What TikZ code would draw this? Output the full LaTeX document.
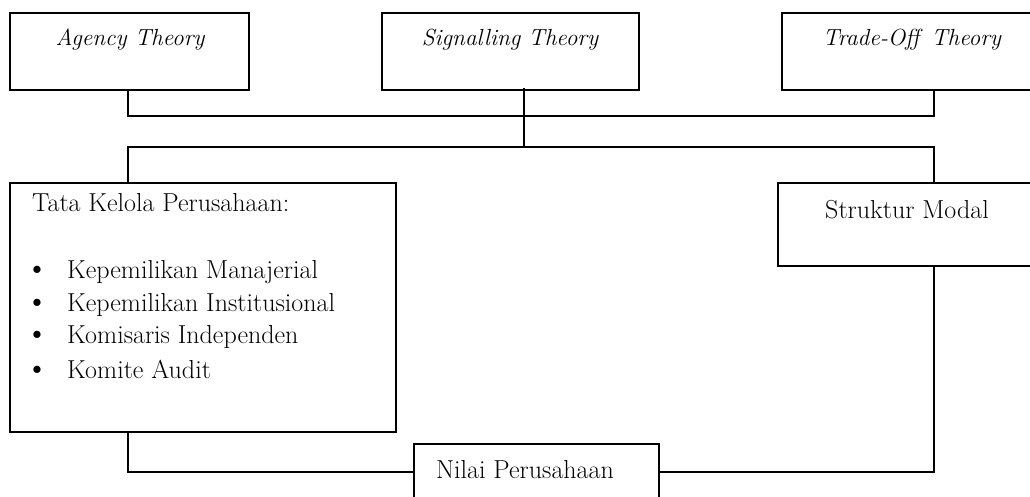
\documentclass[tikz,border=0pt]{standalone}
\begin{document}
\begin{tikzpicture}[x=1pt,y=-1pt,
  box/.style={draw, line width=1.3pt, inner sep=0pt, outer sep=0pt, anchor=north west},
  thickbox/.style={box, line width=2.4pt},
  conn/.style={line width=1.3pt},
  lbl/.style={inner sep=0pt, font=\fontsize{26}{30}\selectfont},
  bul/.style={lbl, anchor=base, scale=1.25},
  ilbl/.style={inner sep=0pt, font=\fontsize{23.3}{27}\selectfont\itshape}]
\useasboundingbox (0,0) rectangle (1030,497);
\clip (0,0) rectangle (1030,497);
% boxes
\node[thickbox, minimum width=239pt, minimum height=77pt] (ag) at (10,13) {};
\node[box, minimum width=257pt, minimum height=77pt] (sg) at (382,13) {};
\node[box, minimum width=260pt, minimum height=77pt] (to) at (782,13) {};
\node[box, minimum width=386pt, minimum height=249pt] (tk) at (10,183) {};
\node[box, minimum width=260pt, minimum height=83pt] (sm) at (778,183) {};
\node[box, minimum width=245pt, minimum height=60pt] (np) at (414,444) {};
% texts
\node[ilbl] (tag) at (130,40) {Agency Theory};
\node[ilbl] (tsg) at (510,40) {Signalling Theory};
\node[ilbl] (tto) at (912,40) {Trade-Off\, Theory};
\node[lbl, anchor=west] (ttk) at (32,203) {Tata Kelola Perusahaan:};
\node[lbl, anchor=west] (i1) at (67,272) {Kepemilikan Manajerial};
\node[lbl, anchor=west] (i2) at (67,305) {Kepemilikan Institusional};
\node[lbl, anchor=west] (i3) at (67,337) {Komisaris Independen};
\node[lbl, anchor=west] (i4) at (67,369) {Komite Audit};
\coordinate (bx) at (37,0);
\node[bul] (b1) at (bx |- i1.base) {\textbullet};
\node[bul] (b2) at (bx |- i2.base) {\textbullet};
\node[bul] (b3) at (bx |- i3.base) {\textbullet};
\node[bul] (b4) at (bx |- i4.base) {\textbullet};
\node[lbl] (tsm) at (907,210) {Struktur Modal};
\node[lbl] (tnp) at (525,470) {Nilai Perusahaan};
% connector points
\coordinate (a1) at (128,116);
\coordinate (a2) at (934,116);
\coordinate (s1) at (524,88);
\coordinate (s2) at (524,147);
\coordinate (l1) at (128,147);
\coordinate (l2) at (934,147);
\coordinate (n1) at (128,472);
\coordinate (n2) at (934,472);
% connectors
\draw[conn] (ag.south -| a1) -- (a1) -- (a2) -- (to.south -| a2);
\draw[conn] (s1) -- (s2);
\draw[conn] (tk.north -| l1) -- (l1) -- (l2) -- (sm.north -| l2);
\draw[conn] (tk.south -| n1) -- (n1) -- (np.west |- n1);
\draw[conn] (np.east |- n2) -- (n2) -- (sm.south -| n2);
\end{tikzpicture}
\end{document}
